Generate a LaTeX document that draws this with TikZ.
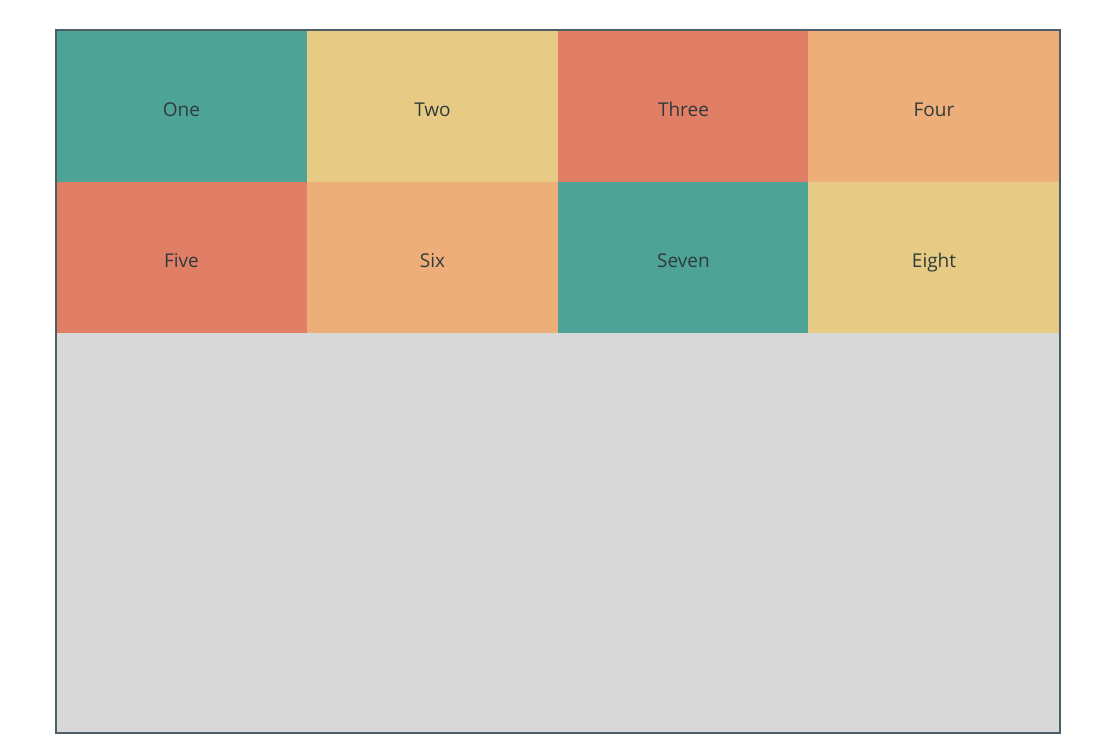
\documentclass[tikz,border=0pt]{standalone}
\usepackage{fontspec}
\setmainfont{Open Sans}
\definecolor{teal1}{HTML}{4EA397}
\definecolor{yel1}{HTML}{E7CB84}
\definecolor{red1}{HTML}{E07F66}
\definecolor{ora1}{HTML}{EDAE7A}
\definecolor{grey1}{HTML}{D8D8D8}
\definecolor{frame1}{HTML}{4E5E66}
\definecolor{txt1}{HTML}{2F3B3B}
\begin{document}
\begin{tikzpicture}[x=1pt,y=-1pt,
  cell/.style={minimum width=251pt,minimum height=152pt,inner sep=0pt,outer sep=0pt,anchor=north west,text=txt1,text height=20pt,text depth=0pt,font=\fontsize{19}{21}\selectfont}]
\useasboundingbox (0,0) rectangle (1118,750);
\fill[white] (0,0) rectangle (1118,750);
\node[fill=grey1,minimum width=1004pt,minimum height=703pt,anchor=north west,inner sep=0pt,outer sep=0pt] (frame) at (56,30) {};
\node[cell,fill=teal1] (c1) at (56,30) {One};
\node[cell,fill=yel1] (c2) at (307,30) {Two};
\node[cell,fill=red1] (c3) at (558,30) {Three};
\node[cell,fill=ora1,minimum width=252pt] (c4) at (808,30) {Four};
\node[cell,fill=red1,minimum height=151pt] (c5) at (56,182) {Five};
\node[cell,fill=ora1,minimum height=151pt] (c6) at (307,182) {Six};
\node[cell,fill=teal1,minimum height=151pt] (c7) at (558,182) {Seven};
\node[cell,fill=yel1,minimum width=252pt,minimum height=151pt] (c8) at (808,182) {Eight};
\draw[frame1,line width=1.6pt] (frame.north west) rectangle (frame.south east);
\end{tikzpicture}
\end{document}
